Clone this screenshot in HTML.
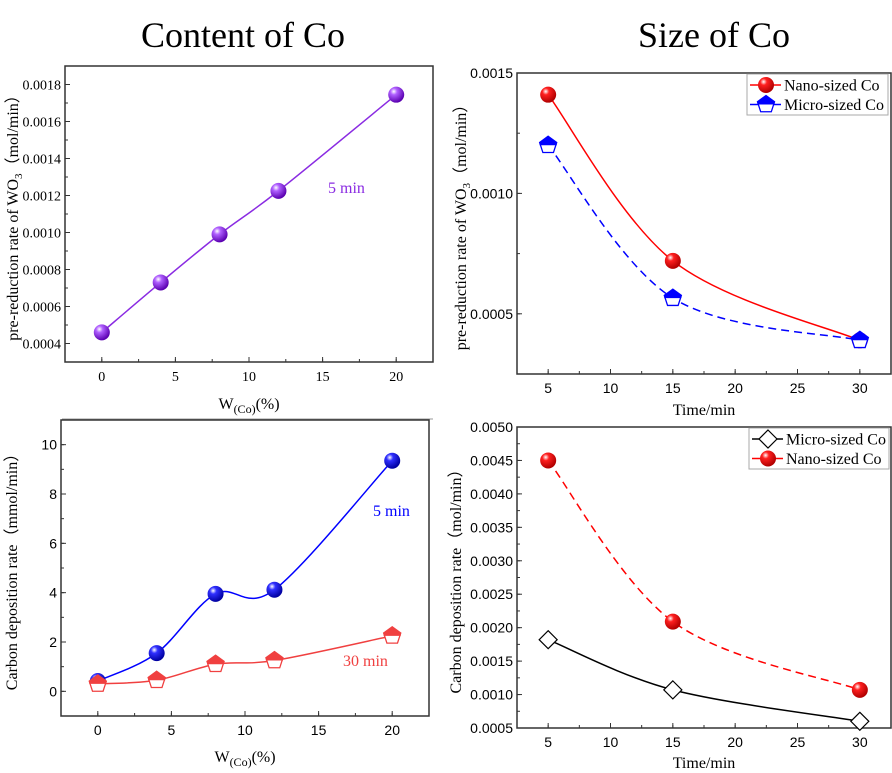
<!DOCTYPE html>
<html><head><meta charset="utf-8"><style>
body{margin:0;background:#fff;}
svg{display:block;}
.serif{font-family:"Liberation Serif",serif;}
.sans{font-family:"Liberation Sans",sans-serif;}
</style></head><body>
<svg id="fig" width="892" height="773" viewBox="0 0 892 773" xmlns="http://www.w3.org/2000/svg">
<defs>
<radialGradient id="gPurple" cx="35%" cy="30%" r="70%"><stop offset="0" stop-color="#fff"/><stop offset="0.3" stop-color="#b060ff"/><stop offset="1" stop-color="#5a00b0"/></radialGradient>
<radialGradient id="gBlue" cx="35%" cy="30%" r="70%"><stop offset="0" stop-color="#fff"/><stop offset="0.3" stop-color="#3030ff"/><stop offset="1" stop-color="#0000a0"/></radialGradient>
<radialGradient id="gRed" cx="35%" cy="30%" r="70%"><stop offset="0" stop-color="#fff"/><stop offset="0.3" stop-color="#ff2020"/><stop offset="1" stop-color="#b00000"/></radialGradient>
</defs>
<text class="serif" x="243" y="47" font-size="36" text-anchor="middle">Content of Co</text>
<text class="serif" x="714" y="47" font-size="36" text-anchor="middle">Size of Co</text>
<line x1="62" y1="419" x2="433" y2="419" stroke="#999" stroke-width="1"/>
</svg>
<script>
// ---- data ----
const wCo = [0, 4, 8, 12, 20];
const preRate5min = [0.00046, 0.00073, 0.00099, 0.001225, 0.001745];
const carbon5min = [0.42, 1.55, 3.95, 4.12, 9.35];
const carbon30min = [0.30, 0.45, 1.10, 1.25, 2.25];
const timeMin = [5, 15, 30];
const preNano = [0.00141, 0.00072, 0.00039];
const preMicro = [0.00120, 0.000565, 0.00039];
const carbMicro = [0.00182, 0.00107, 0.00060];
const carbNano = [0.00450, 0.00209, 0.00107];
const tlYTicks = ["0.0004","0.0006","0.0008","0.0010","0.0012","0.0014","0.0016","0.0018"];
const wXTicks = ["0","5","10","15","20"];
const trYTicks = ["0.0005","0.0010","0.0015"];
const tXTicks = ["5","10","15","20","25","30"];
const blYTicks = ["0","2","4","6","8","10"];
const brYTicks = ["0.0005","0.0010","0.0015","0.0020","0.0025","0.0030","0.0035","0.0040","0.0045","0.0050"];

const NS = "http://www.w3.org/2000/svg";
const fig = document.getElementById('fig');
function mk(tag, attrs, parent){const e=document.createElementNS(NS,tag);for(const k in attrs)e.setAttribute(k,attrs[k]);(parent||fig).appendChild(e);return e;}
function scale(d0,d1,r0,r1){return v=>r0+(v-d0)/(d1-d0)*(r1-r0);}
function smooth(pts){
  let d="M"+pts[0][0]+","+pts[0][1];
  for(let i=0;i<pts.length-1;i++){
    const p0=pts[Math.max(0,i-1)],p1=pts[i],p2=pts[i+1],p3=pts[Math.min(pts.length-1,i+2)];
    const t=6;
    const c1=[p1[0]+(p2[0]-p0[0])/t,p1[1]+(p2[1]-p0[1])/t];
    const c2=[p2[0]-(p3[0]-p1[0])/t,p2[1]-(p3[1]-p1[1])/t];
    d+=" C"+c1+" "+c2+" "+p2;
  }
  return d;
}
function panel(o){
  const g=mk('g',{});
  
  
  const x=scale(o.xd[0],o.xd[1],o.box[0],o.box[2]);
  const y=scale(o.yd[0],o.yd[1],o.box[3],o.box[1]);
  const r=mk('rect',{x:o.box[0],y:o.box[1],width:o.box[2]-o.box[0],height:o.box[3]-o.box[1],fill:'none',stroke:'#333','stroke-width':1.5},g);
  
  
  o.xTicks.forEach(t=>{const v=+t,px=x(v);
    mk('line',{x1:px,y1:o.box[3],x2:px,y2:o.box[3]-5,stroke:'#333'},g);
    const tx=mk('text',{x:px,y:o.box[3]+19,'font-size':14,'text-anchor':'middle',class:o.tickFont},g);tx.textContent=t;
    
    
  });
  for(let v=o.xd[0];v<=o.xd[1];v+=o.xMinor){const px=x(v);if(px>o.box[0]+1&&px<o.box[2]-1)mk('line',{x1:px,y1:o.box[3],x2:px,y2:o.box[3]-3,stroke:'#333'},g);}
  o.yTicks.forEach(t=>{const v=+t,py=y(v);
    mk('line',{x1:o.box[0],y1:py,x2:o.box[0]+5,y2:py,stroke:'#333'},g);
    const tx=mk('text',{x:o.box[0]-4,y:py+5,'font-size':14,'text-anchor':'end',class:o.tickFont},g);tx.textContent=t;
    
    
  });
  for(let v=o.yMinorStart;v<=o.yd[1];v+=o.yMinor){const py=y(v);if(py<o.box[3]-1&&py>o.box[1]+1)mk('line',{x1:o.box[0],y1:py,x2:o.box[0]+3,y2:py,stroke:'#333'},g);}
  const xt=mk('text',{x:(o.box[0]+o.box[2])/2,y:o.xTitleY,'font-size':16,'text-anchor':'middle',class:'serif'},g);
  xt.innerHTML=o.xTitle;
  
  
  const cy=(o.box[1]+o.box[3])/2;
  const yt=mk('text',{x:0,y:0,'font-size':16,'text-anchor':'middle',class:'serif',transform:`translate(${o.yTitleX},${cy}) rotate(-90)`},g);
  yt.innerHTML=o.yTitle;
  
  
  o.series.forEach(s=>{
    const pts=s.xs.map((v,i)=>[x(v),y(s.ys[i])]);
    const p=mk('path',{d:smooth(pts),fill:'none',stroke:s.color,'stroke-width':1.5,'stroke-dasharray':s.dash||'none'},g);
    
    
    pts.forEach(pt=>{const m=marker(s.marker,pt[0],pt[1],s.color,s.grad,g);
      
      });
  });
  return g;
}
function marker(type,cx,cy,color,grad,parent){
  const g=mk('g',{},parent);
  if(type==='sphere'){mk('circle',{cx,cy,r:8,fill:`url(#${grad})`},g);}
  else if(type==='pent'){
    const R=9,pts=[];for(let i=0;i<5;i++){const a=-Math.PI/2+i*2*Math.PI/5;pts.push([cx+R*Math.cos(a),cy+R*Math.sin(a)]);}
    const s=pts.map(p=>p.join(',')).join(' ');
    mk('polygon',{points:s,fill:'#fff',stroke:color,'stroke-width':1.3},g);
    mk('polygon',{points:`${pts[0]} ${pts[1]} ${cx+R*0.95},${cy} ${cx-R*0.95},${cy} ${pts[4]}`,fill:color},g);
  } else {
    mk('polygon',{points:`${cx},${cy-9} ${cx+9},${cy} ${cx},${cy+9} ${cx-9},${cy}`,fill:'#fff',stroke:'#000','stroke-width':1.2},g);
  }
  return g;
}
function legend(x0,y0,w,h,items){
  const g=mk('g',{});
  
  
  mk('rect',{x:x0,y:y0,width:w,height:h,fill:'#fff',stroke:'#aaa'},g);
  items.forEach((it,i)=>{const cy=y0+11+i*19.5;
    const e=mk('g',{},g);
    
    
    mk('line',{x1:x0+3,y1:cy,x2:x0+34,y2:cy,stroke:it.color,'stroke-width':1.5},e);
    marker(it.marker,x0+19,cy,it.color,it.grad,e);
    const t=mk('text',{x:x0+37,y:cy+5.5,'font-size':16,class:'serif'},e);t.textContent=it.label;
  });
}
function label(x,y,txt,color){const t=mk('text',{x,y,'font-size':16,fill:color,class:'serif'});t.textContent=txt;
  
  }

panel({name:'chart-pre-reduction-content',box:[65,66,433,362],xd:[-2.5,22.5],yd:[0.0003,0.0019],xTicks:wXTicks,xMinor:2.5,yTicks:tlYTicks,yMinor:0.0001,yMinorStart:0.0003,tickFont:'serif',
  xTitle:'W<tspan font-size="12" dy="4">(Co)</tspan><tspan dy="-4">(%)</tspan>',xTitleY:409,yTitleX:18,yTitle:'pre-reduction rate of WO<tspan font-size="11" dy="4">3</tspan><tspan dy="-4">（mol/min）</tspan>',
  series:[{name:'5min',xs:wCo,ys:preRate5min,color:'#8a2be2',marker:'sphere',grad:'gPurple'}]});
label(328,193,'5 min','#8a2be2');

panel({name:'chart-pre-reduction-size',box:[517,73,891,374],xd:[2.5,32.5],yd:[0.00025,0.0015],xTicks:tXTicks,xMinor:2.5,yTicks:trYTicks,yMinor:0.00025,yMinorStart:0.00025,tickFont:'sans',
  xTitle:'Time/min',xTitleY:415,yTitleX:466,yTitle:'pre-reduction rate of WO<tspan font-size="11" dy="4">3</tspan><tspan dy="-4">（mol/min）</tspan>',
  series:[{name:'nano',xs:timeMin,ys:preNano,color:'#f00',marker:'sphere',grad:'gRed'},
          {name:'micro',xs:timeMin,ys:preMicro,color:'#0000ff',marker:'pent',dash:'8 5'}]});
legend(747,74,141,41,[{label:'Nano-sized Co',color:'#f00',marker:'sphere',grad:'gRed'},{label:'Micro-sized Co',color:'#0000ff',marker:'pent'}]);

panel({name:'chart-carbon-content',box:[61,420,429,716],xd:[-2.5,22.5],yd:[-1,11],xTicks:wXTicks,xMinor:2.5,yTicks:blYTicks,yMinor:1,yMinorStart:-1,tickFont:'sans',
  xTitle:'W<tspan font-size="12" dy="4">(Co)</tspan><tspan dy="-4">(%)</tspan>',xTitleY:762,yTitleX:17,yTitle:'Carbon deposition rate（mmol/min）',
  series:[{name:'5min',xs:wCo,ys:carbon5min,color:'#0000ff',marker:'sphere',grad:'gBlue'},
          {name:'30min',xs:wCo,ys:carbon30min,color:'#f04040',marker:'pent'}]});
label(373,516,'5 min','#0000ff');
label(343,666,'30 min','#f04040');

panel({name:'chart-carbon-size',box:[517,427,891,728],xd:[2.5,32.5],yd:[0.0005,0.005],xTicks:tXTicks,xMinor:2.5,yTicks:brYTicks,yMinor:0.00025,yMinorStart:0.0005,tickFont:'sans',
  xTitle:'Time/min',xTitleY:768,yTitleX:461,yTitle:'Carbon deposition rate（mol/min）',
  series:[{name:'micro',xs:timeMin,ys:carbMicro,color:'#000',marker:'diamond'},
          {name:'nano',xs:timeMin,ys:carbNano,color:'#f00',marker:'sphere',grad:'gRed',dash:'8 5'}]});
legend(749,428,140,41,[{label:'Micro-sized Co',color:'#000',marker:'diamond'},{label:'Nano-sized Co',color:'#f00',marker:'sphere',grad:'gRed'}]);
</script>
</body></html>
